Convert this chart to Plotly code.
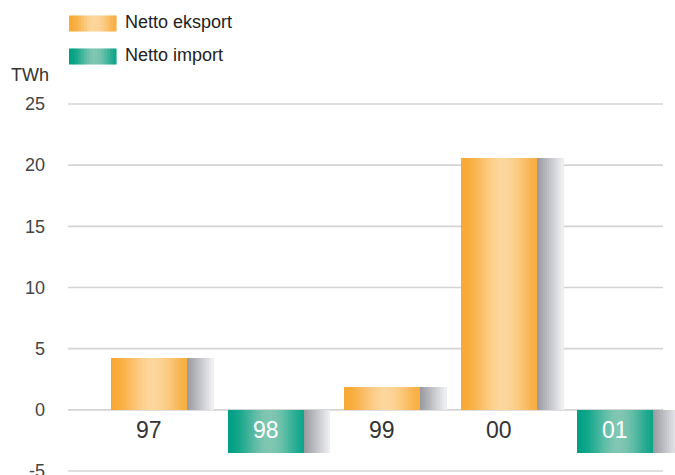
import numpy as np
import plotly.graph_objects as go

# Net power exchange per year (TWh); positive = net export, negative = net import
years = ["97", "98", "99", "00", "01"]
net_twh = [4.2, -3.5, 1.9, 20.6, -3.5]
series_names = ["Netto eksport", "Netto import"]
y_ticks = [-5, 0, 5, 10, 15, 20, 25]
unit_label = "TWh"

W, H = 675, 475
M_L, M_R, M_T, M_B = 68, 0, 95, 0
X_RANGE = [-0.695, 4.511]
Y_RANGE = [-5.327, 25.736]

BAR_W = 0.652      # bar width in category units
SHADOW_W = 0.223   # width of the grey drop shadow to the right of each bar
N_BAR = 38
N_SHADOW = 13

# gradient palettes: (edge colour, highlight colour)
EXPORT = ((248, 169, 53), (253, 214, 156))
IMPORT = ((0, 161, 132), (128, 198, 178))
SHADOW = ((152, 153, 159), (240, 241, 243))


def mix(c0, c1, a):
    return "rgb({},{},{})".format(*[int(round(c0[i] + (c1[i] - c0[i]) * a)) for i in range(3)])


def glow(t, centre=0.55):
    d = abs(t - centre) / max(centre, 1 - centre)
    return np.cos(np.pi / 2 * min(d, 1.0)) ** 2


x_idx = list(range(len(years)))
palettes = [EXPORT if v >= 0 else IMPORT for v in net_twh]

fig = go.Figure()

# shadow strips (light to the right)
step = SHADOW_W / N_SHADOW
for k in range(N_SHADOW):
    t = (k + 0.5) / N_SHADOW
    fig.add_trace(go.Bar(
        x=x_idx, y=net_twh,
        offset=BAR_W / 2 + k * step, width=step * 1.4,
        marker=dict(color=mix(SHADOW[0], SHADOW[1], t), line=dict(width=0)),
        hoverinfo="skip", showlegend=False,
    ))

# bar strips with a vertical highlight band
step = BAR_W / N_BAR
for k in range(N_BAR):
    t = (k + 0.5) / N_BAR
    g = glow(t)
    fig.add_trace(go.Bar(
        x=x_idx, y=net_twh,
        offset=-BAR_W / 2 + k * step, width=step * (1.4 if k < N_BAR - 1 else 1.0),
        marker=dict(color=[mix(p[0], p[1], g) for p in palettes], line=dict(width=0)),
        hoverinfo="skip", showlegend=False,
    ))

plot_w = W - M_L - M_R
plot_h = H - M_T - M_B


def px_x(px):
    return (px - M_L) / plot_w


def px_y(py):
    return (H - M_B - py) / plot_h


shapes = []
# horizontal gridlines
for v in y_ticks:
    shapes.append(dict(type="line", xref="paper", yref="y", x0=0, x1=px_x(663),
                       y0=v, y1=v, line=dict(color="#D4D4D4", width=1.6), layer="below"))

annotations = []
# category labels sitting just below the zero line
for i, (lab, v) in enumerate(zip(years, net_twh)):
    annotations.append(dict(x=i, y=-1.63, xref="x", yref="y", text=lab, showarrow=False,
                            font=dict(size=23, color="white" if v < 0 else "#333333")))

# legend: gradient swatches + names
for j, (name, pal) in enumerate(zip(series_names, [EXPORT, IMPORT])):
    top = 15.5 + j * 33
    n = 16
    sw0, sw1 = 69, 116
    sw = (sw1 - sw0) / n
    for k in range(n):
        g = glow((k + 0.5) / n)
        shapes.append(dict(type="rect", xref="paper", yref="paper",
                           x0=px_x(sw0 + k * sw), x1=px_x(sw0 + (k + 1) * sw + 0.6),
                           y0=px_y(top + 16), y1=px_y(top),
                           fillcolor=mix(pal[0], pal[1], g), line=dict(width=0)))
    annotations.append(dict(x=px_x(123), y=px_y(top + 6.5), xref="paper", yref="paper",
                            text=name, showarrow=False, xanchor="left", yanchor="middle",
                            font=dict(size=18, color="#222222")))

annotations.append(dict(x=px_x(9), y=px_y(75), xref="paper", yref="paper", text=unit_label,
                        showarrow=False, xanchor="left", yanchor="middle",
                        font=dict(size=18, color="#333333")))

fig.update_layout(
    width=W, height=H,
    margin=dict(l=M_L, r=M_R, t=M_T, b=M_B, pad=0),
    paper_bgcolor="white", plot_bgcolor="white",
    barmode="overlay", bargap=0,
    font=dict(family="Liberation Sans, Arial, sans-serif", color="#444444"),
    xaxis=dict(range=X_RANGE, showgrid=False, zeroline=False, showticklabels=False,
               showline=False, fixedrange=True, automargin=False),
    yaxis=dict(range=Y_RANGE, tickvals=y_ticks, ticktext=[str(v) for v in y_ticks],
               showgrid=False, zeroline=False, automargin=False,
               showline=False, ticks="", ticklabelstandoff=22, ticklabeloverflow="allow",
               tickfont=dict(size=18, color="#444444"), fixedrange=True),
    shapes=shapes, annotations=annotations, showlegend=False,
)

fig.write_html("out.html", config={"displayModeBar": False})
